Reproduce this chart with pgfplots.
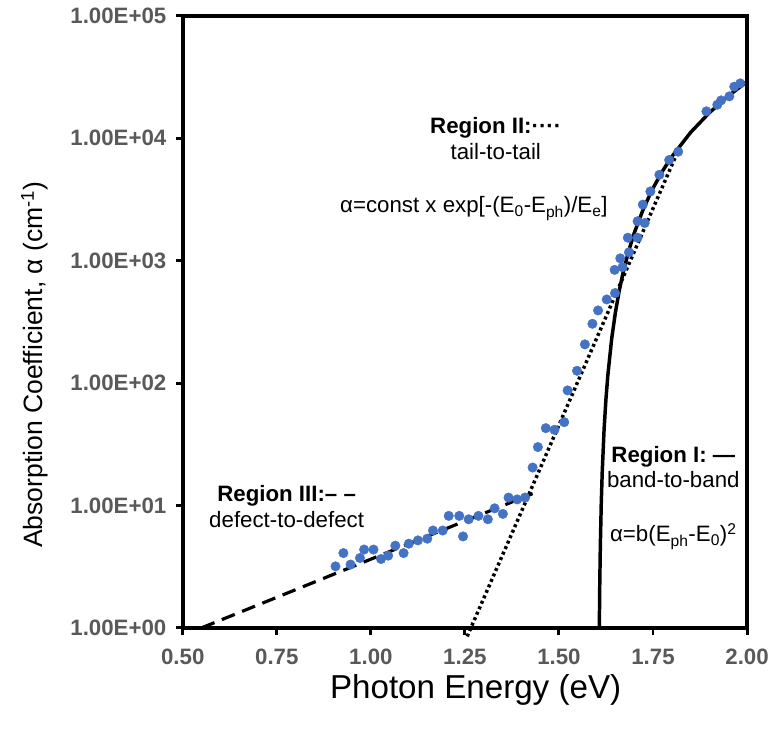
\documentclass[border=0pt]{standalone}
\usepackage{fontspec}
\setmainfont{Liberation Sans}
\usepackage{pgfplots}
\pgfplotsset{compat=1.18}
\definecolor{ptblue}{HTML}{4472C4}
\definecolor{tickgray}{HTML}{595959}
\newcommand{\annfont}{\fontsize{22.5}{26}\selectfont}
\begin{document}
\begin{tikzpicture}
\begin{axis}[
  scale only axis, width=568bp, height=616bp,
  xmin=0.5, xmax=2.0, ymode=log, ymin=1, ymax=1e5,
  axis line style={line width=4.5bp},
  xtick={0.5,0.75,1.0,1.25,1.5,1.75,2.0},
  xticklabels={0.50,0.75,1.00,1.25,1.50,1.75,2.00},
  ytick={1,10,100,1000,10000,100000},
  yticklabels={1.00E+00,1.00E+01,1.00E+02,1.00E+03,1.00E+04,1.00E+05},
  yminorticks=false,
  tick align=outside, tick pos=left,
  major tick length=7bp,
  every tick/.style={black, line width=3bp},
  ticklabel style={font=\fontsize{22.5}{26}\selectfont\bfseries, text=tickgray},
  xticklabel style={yshift=-11bp},
  yticklabel style={xshift=-6bp},
  xlabel={Photon Energy (eV)},
  ylabel={Absorption Coefficient, α (cm\textsuperscript{-1})},
  xlabel style={at={(axis description cs:0.519,-0.116)}, anchor=base, font=\fontsize{33.5}{40}\selectfont},
  ylabel style={at={(axis description cs:-0.2623,0.43)}, anchor=center, font=\fontsize{26.8}{32}\selectfont},
  clip=false,
]
% measured absorption data
\addplot[only marks, mark=*, mark size=4.8bp, mark options={draw=ptblue, fill=ptblue}] coordinates {
(0.906,3.18) (0.927,4.08) (0.946,3.29) (0.971,3.72) (0.982,4.36) (1.007,4.36)
(1.027,3.65) (1.046,3.89) (1.065,4.69) (1.087,4.08) (1.101,4.87) (1.125,5.18)
(1.150,5.35) (1.165,6.24) (1.191,6.24) (1.207,8.22) (1.235,8.22) (1.245,5.58)
(1.260,7.71) (1.286,8.22) (1.311,7.71) (1.329,9.47) (1.351,8.53) (1.366,11.6)
(1.389,11.2) (1.410,11.6) (1.430,20.4) (1.444,30.0) (1.465,42.8) (1.488,41.5)
(1.514,47.9) (1.523,87.1) (1.548,126) (1.569,207) (1.589,305) (1.604,392)
(1.627,482) (1.649,543) (1.648,841) (1.663,1045) (1.669,884) (1.686,1170)
(1.683,1540) (1.709,1540) (1.709,2100) (1.728,2030) (1.723,2870) (1.743,3680)
(1.767,5030) (1.793,6650) (1.817,7770) (1.892,16600) (1.921,18800) (1.931,20400)
(1.953,22000) (1.966,26400) (1.982,28100)
};
% Region III: defect-to-defect (dashed)
\addplot[black, line width=3.2bp, dash pattern=on 14bp off 8bp] coordinates {(0.55,1.0) (1.43,12.5)};
% Region II: tail-to-tail (dotted)
\addplot[black, line width=3.5bp, dash pattern=on 3bp off 3bp] coordinates {(1.256,0.85) (1.815,7700)};
% Region I: band-to-band (solid)
\addplot[black, line width=3.5bp, line join=round] coordinates {
(1.6073,1.0) (1.6085,2.28) (1.61,4.65) (1.6125,10.5) (1.615,18.6) (1.62,41.9)
(1.625,74.4) (1.63,116) (1.64,228) (1.65,377) (1.66,563) (1.67,786) (1.685,1190)
(1.70,1679) (1.725,2678) (1.75,3911) (1.775,5375) (1.80,7073) (1.85,11165)
(1.90,16187) (1.95,22139) (2.00,29021)
};
\node[align=center, font=\annfont] at (axis cs:0.776,9.77) {\textbf{Region III:– –}\\defect-to-defect};
\node[align=center, font=\annfont] at (axis cs:1.332,1.0e4) {\textbf{Region II:····}\\tail-to-tail};
\node[font=\annfont] at (axis cs:1.274,2661) {α=const x exp[-(E\textsubscript{0}-E\textsubscript{ph})/E\textsubscript{e}]};
\node[align=center, font=\annfont] at (axis cs:1.804,20.6) {\textbf{Region I: —}\\band-to-band};
\node[font=\annfont] at (axis cs:1.804,5.58) {α=b(E\textsubscript{ph}-E\textsubscript{0})\textsuperscript{2}};
\end{axis}
\path[use as bounding box] (-184bp,-108bp) rectangle (588bp,632bp);
\end{tikzpicture}
\end{document}
